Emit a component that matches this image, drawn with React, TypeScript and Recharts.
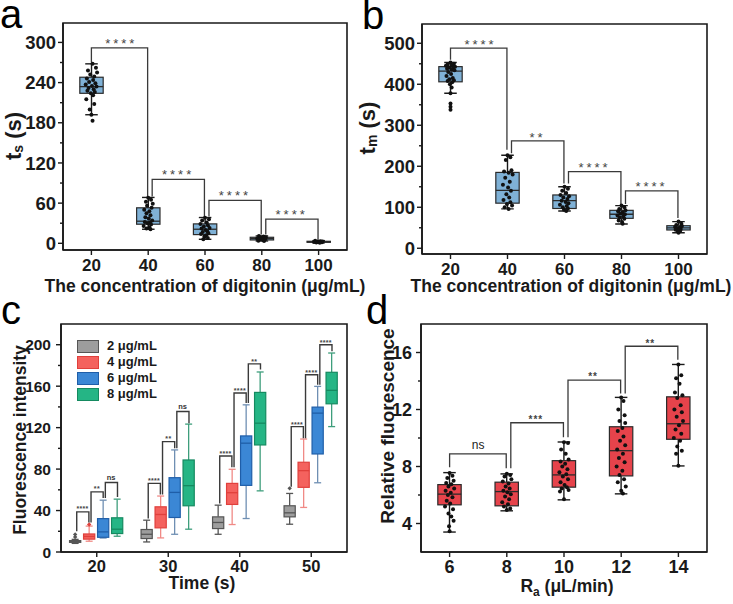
import React from 'react';
import { ComposedChart, Bar, XAxis, YAxis, Scatter, Line, ReferenceArea, Legend } from 'recharts';

const FONT = '"Liberation Sans", Arial, Helvetica, sans-serif';
const INK = '#1a1a1a';

// ---------------- Panel a : t_s ----------------
const aCategories = ['20', '40', '60', '80', '100'];
const aMin = [192, 21, 6, 3.5, 0.8];
const aQ1 = [224, 28.5, 13, 5, 1.5];
const aMedian = [234, 33, 21, 7, 2.2];
const aQ3 = [248, 53, 29, 9, 3];
const aMax = [268, 68.5, 38.5, 11, 4];
const aPoints: number[][][] = [
  [[0.02, 268], [0.08, 262], [-0.06, 258], [0.1, 255], [-0.02, 252], [0.05, 249], [-0.08, 246], [0.03, 244], [-0.04, 241], [0.07, 239], [-0.1, 237], [0.01, 235], [0.09, 234], [-0.05, 232], [0.04, 230], [-0.07, 228], [0.06, 226], [-0.01, 224], [0.03, 221], [-0.09, 215], [0.05, 208], [-0.03, 200], [0.0, 192], [0.02, 183]],
  [[0.0, 68], [0.05, 65], [-0.04, 62], [0.08, 59], [-0.02, 56], [0.06, 53], [-0.07, 50], [0.02, 48], [-0.03, 45], [0.04, 42], [-0.05, 39], [0.01, 37], [0.07, 34], [-0.06, 32], [0.03, 31], [-0.01, 30], [0.05, 28], [-0.08, 26], [0.02, 24], [-0.03, 22], [0.04, 21]],
  [[0.0, 38], [0.07, 36], [-0.05, 34], [0.03, 31], [-0.08, 29], [0.05, 27], [-0.02, 25], [0.08, 23], [-0.06, 22], [0.01, 20], [0.04, 18], [-0.04, 17], [0.06, 15], [-0.07, 14], [0.02, 12], [-0.01, 10], [0.05, 8], [-0.03, 6]],
  [[-0.05, 11], [0.03, 10], [0.07, 9], [-0.02, 8.5], [0.05, 8], [-0.08, 7], [0.01, 6.5], [0.06, 6], [-0.04, 5.5], [0.02, 5], [-0.06, 4], [0.04, 3.5]],
  [[-0.06, 3.8], [0.03, 3.2], [0.07, 2.8], [-0.02, 2.5], [0.05, 2.2], [-0.08, 2], [0.01, 1.8], [0.06, 1.5], [-0.04, 1.2], [0.02, 1]],
];
const aBrackets = [
  { from: 0, to: 1, top: 292, leftEnd: 270, rightEnd: 70, txt: '****', labelY: 303 },
  { from: 1, to: 2, top: 95.5, leftEnd: 70, rightEnd: 40, txt: '****', labelY: 107 },
  { from: 2, to: 3, top: 64, leftEnd: 40, rightEnd: 13, txt: '****', labelY: 75.5 },
  { from: 3, to: 4, top: 36, leftEnd: 13, rightEnd: 5, txt: '****', labelY: 48 },
];
const aTicks = [0, 30, 60, 90, 120, 150, 180, 210, 240, 270, 300];
const aMajor = [0, 60, 120, 180, 240, 300];

// ---------------- Panel b : t_m ----------------
const bCategories = ['20', '40', '60', '80', '100'];
const bMin = [378, 96, 91, 59, 38];
const bQ1 = [406, 110, 97, 73, 44.6];
const bMedian = [432, 141, 116, 83, 49.5];
const bQ3 = [443, 185, 130, 92.5, 55];
const bMax = [453, 227, 150, 104, 65];
const bPoints: number[][][] = [
  [[0.0, 453], [0.06, 450], [-0.05, 448], [0.03, 446], [-0.08, 445], [0.08, 443], [-0.02, 441], [0.05, 440], [-0.06, 438], [0.02, 436], [0.07, 434], [-0.04, 430], [0.01, 425], [-0.07, 420], [0.04, 415], [-0.02, 412], [0.06, 410], [-0.05, 408], [0.03, 405], [-0.01, 400], [0.02, 392], [0.0, 378], [0.0, 353], [0.0, 345], [0.0, 338]],
  [[0.0, 227], [0.05, 222], [-0.03, 215], [0.07, 190], [-0.06, 187], [0.02, 184], [0.09, 180], [-0.04, 172], [0.04, 162], [-0.08, 155], [0.01, 148], [0.06, 140], [-0.02, 132], [0.03, 124], [-0.07, 118], [0.05, 112], [-0.01, 108], [0.08, 104], [-0.05, 100], [0.02, 96]],
  [[0.0, 150], [0.06, 145], [-0.04, 140], [0.03, 135], [-0.07, 130], [0.08, 127], [-0.02, 124], [0.05, 120], [-0.05, 116], [0.02, 113], [0.07, 110], [-0.08, 106], [0.04, 103], [-0.03, 100], [0.06, 97], [-0.01, 94], [0.03, 91]],
  [[0.0, 104], [0.05, 100], [-0.04, 96], [0.07, 93], [-0.06, 90], [0.02, 88], [-0.02, 85], [0.06, 83], [-0.07, 80], [0.03, 78], [-0.03, 75], [0.05, 72], [-0.05, 68], [0.01, 64], [0.02, 60]],
  [[0.0, 65], [0.05, 60], [-0.04, 57], [0.06, 54], [-0.06, 52], [0.02, 50], [-0.02, 49], [0.04, 47], [-0.05, 45], [0.03, 43], [-0.01, 41], [0.0, 38]],
];
const bBrackets = [
  { from: 0, to: 1, top: 488, leftEnd: 460, rightEnd: 240, txt: '****', labelY: 504 },
  { from: 1, to: 2, top: 261.7, leftEnd: 232, rightEnd: 158, txt: '**', labelY: 277 },
  { from: 2, to: 3, top: 187, leftEnd: 158, rightEnd: 108, txt: '****', labelY: 205 },
  { from: 3, to: 4, top: 140, leftEnd: 108, rightEnd: 74, txt: '****', labelY: 158 },
];
const bTicks = [0, 50, 100, 150, 200, 250, 300, 350, 400, 450, 500];
const bMajor = [0, 100, 200, 300, 400, 500];

// ---------------- Panel c : fluorescence vs time ----------------
const cCategories = ['20', '30', '40', '50'];
const cSeries = ['2 μg/mL', '4 μg/mL', '6 μg/mL', '8 μg/mL'];
// each entry: [min, q1, median, q3, max] per time point
const cGray = [[8.3, 9.3, 10, 11, 12.2], [9.7, 13, 17.1, 21.7, 30.7], [17.1, 22.6, 28.5, 33.9, 45.2], [26.8, 33.9, 37.8, 44.6, 56.5]];
const cRed = [[10.4, 12.4, 15, 17.4, 25], [13.6, 23.3, 36.2, 43.6, 54], [26.5, 45.9, 57.2, 66.2, 79.8], [43, 62.4, 78.5, 86.6, 109]];
const cBlue = [[13.5, 14.2, 19.4, 32.2, 50], [17.1, 33.3, 57.5, 71.7, 98.5], [32.3, 64.3, 105, 112, 142], [66.8, 94.6, 134, 139.8, 159.8]];
const cGreen = [[15.2, 17.8, 22, 33, 51], [22, 44.6, 64, 88.8, 123.4], [59, 103.3, 124.3, 154, 173.7], [121, 143, 156, 173.4, 192]];
const cOutGray = [[14.5, 17], [], [], [61.4]];
const cOutRed = [[26.5], [], [], []];
const cOutBlue: number[][] = [[], [], [], []];
const cOutGreen: number[][] = [[], [], [], []];
const cBrackets = [
  { cat: 0, from: 0, to: 1, top: 38.7, leftEnd: 20, rightEnd: 28.5, txt: '****', labelY: 43 },
  { cat: 0, from: 1, to: 2, top: 58, leftEnd: 28.5, rightEnd: 52, txt: '**', labelY: 62.4 },
  { cat: 0, from: 2, to: 3, top: 67, leftEnd: 52, rightEnd: 53, txt: 'ns', labelY: 71.5 },
  { cat: 1, from: 0, to: 1, top: 66.2, leftEnd: 32.3, rightEnd: 55.6, txt: '****', labelY: 70 },
  { cat: 1, from: 1, to: 2, top: 106.5, leftEnd: 55.6, rightEnd: 100, txt: '**', labelY: 110.8 },
  { cat: 1, from: 2, to: 3, top: 135.6, leftEnd: 100, rightEnd: 124.3, txt: 'ns', labelY: 140 },
  { cat: 2, from: 0, to: 1, top: 92.7, leftEnd: 46.9, rightEnd: 81.7, txt: '****', labelY: 96.5 },
  { cat: 2, from: 1, to: 2, top: 153.4, leftEnd: 81.7, rightEnd: 143.7, txt: '****', labelY: 157 },
  { cat: 2, from: 2, to: 3, top: 181.5, leftEnd: 143.7, rightEnd: 176, txt: '**', labelY: 185 },
  { cat: 3, from: 0, to: 1, top: 121, leftEnd: 63, rightEnd: 109.8, txt: '****', labelY: 124.6 },
  { cat: 3, from: 1, to: 2, top: 171, leftEnd: 109.8, rightEnd: 161.4, txt: '****', labelY: 174.6 },
  { cat: 3, from: 2, to: 3, top: 200, leftEnd: 161.4, rightEnd: 193.7, txt: '****', labelY: 203.5 },
];
const cTicks = [0, 20, 40, 60, 80, 100, 120, 140, 160, 180, 200];
const cMajor = [0, 40, 80, 120, 160, 200];

// ---------------- Panel d : relative fluorescence ----------------
const dCategories = ['6', '8', '10', '12', '14'];
const dMin = [3.4, 4.89, 5.66, 6.08, 8.04];
const dQ1 = [5.31, 5.24, 6.55, 7.34, 9.91];
const dMedian = [6.06, 6.24, 7.41, 9.11, 11.0];
const dQ3 = [6.73, 6.9, 8.41, 10.79, 12.89];
const dMax = [7.57, 7.48, 9.72, 12.85, 15.16];
const dPoints: number[][][] = [
  [[0.0, 7.55], [0.05, 7.35], [-0.04, 7.2], [0.07, 7.0], [-0.06, 6.85], [0.03, 6.75], [-0.02, 6.6], [0.08, 6.45], [-0.07, 6.3], [0.02, 6.15], [-0.03, 6.0], [0.05, 5.85], [-0.05, 5.6], [0.01, 5.4], [-0.08, 5.2], [0.06, 5.0], [-0.02, 4.7], [0.03, 4.5], [0.07, 4.2], [-0.01, 3.8], [0.0, 3.45]],
  [[0.0, 7.5], [0.06, 7.4], [-0.04, 7.3], [0.08, 7.1], [-0.07, 6.95], [0.03, 6.8], [-0.02, 6.6], [0.05, 6.45], [-0.06, 6.3], [0.01, 6.2], [0.07, 6.05], [-0.03, 5.9], [0.04, 5.7], [-0.08, 5.5], [0.02, 5.35], [-0.05, 5.2], [0.06, 5.05], [0.0, 4.95]],
  [[0.0, 9.7], [0.07, 9.65], [-0.05, 9.2], [0.03, 8.9], [0.08, 8.5], [-0.06, 8.35], [0.02, 8.2], [-0.03, 8.0], [0.06, 7.8], [-0.08, 7.6], [0.04, 7.45], [-0.02, 7.3], [0.07, 7.1], [-0.06, 6.9], [0.01, 6.7], [0.05, 6.55], [-0.04, 6.45], [0.08, 6.35], [-0.07, 6.25], [0.0, 5.7]],
  [[0.0, 12.85], [0.04, 12.6], [-0.05, 12.0], [0.06, 11.6], [-0.03, 11.2], [0.07, 11.05], [0.02, 10.7], [-0.06, 10.5], [0.04, 10.1], [-0.02, 9.8], [0.07, 9.5], [-0.07, 9.2], [0.03, 8.9], [-0.04, 8.6], [0.06, 8.3], [-0.08, 8.0], [0.02, 7.7], [-0.03, 7.4], [0.05, 7.1], [-0.06, 6.9], [0.08, 6.6], [0.0, 6.3], [0.03, 6.1]],
  [[0.0, 15.15], [0.05, 14.4], [-0.04, 14.2], [0.02, 13.8], [-0.06, 13.2], [0.07, 13.0], [-0.02, 12.8], [0.04, 12.3], [-0.07, 12.0], [0.06, 11.8], [-0.03, 11.5], [0.08, 11.2], [0.01, 10.9], [-0.05, 10.6], [0.05, 10.3], [-0.08, 10.0], [0.03, 9.8], [-0.02, 9.4], [0.06, 9.1], [-0.04, 8.9], [0.0, 8.05]],
];
const dBrackets = [
  { from: 0, to: 1, top: 8.88, leftEnd: 7.95, rightEnd: 7.88, txt: 'ns', labelY: 9.45 },
  { from: 1, to: 2, top: 11.07, leftEnd: 7.88, rightEnd: 10.05, txt: '***', labelY: 11.45 },
  { from: 2, to: 3, top: 14.06, leftEnd: 10.05, rightEnd: 13.13, txt: '**', labelY: 14.45 },
  { from: 3, to: 4, top: 16.44, leftEnd: 13.13, rightEnd: 15.5, txt: '**', labelY: 16.8 },
];
const dTicks = [4, 6, 8, 10, 12, 14, 16];
const dMajor = [4, 8, 12, 16];

// ---------------- styling constants ----------------
const C_STYLE = [
  { fill: '#9d9d9d', stroke: '#555555', whisker: '#555555' },
  { fill: '#f4625e', stroke: '#e0403c', whisker: '#f08a86' },
  { fill: '#3b87d5', stroke: '#1f5ea8', whisker: '#6f8fb3' },
  { fill: '#25b585', stroke: '#158a60', whisker: '#3e9e7c' },
];
const C_OFFSETS = [-0.3, -0.1, 0.1, 0.3];
const C_KEYS = ['r0', 'r1', 'r2', 'r3'];

function YTick(props: any) {
  const { x, y, payload, major, fontSize, gap } = props;
  const v = payload ? payload.value : undefined;
  const isMajor = major.indexOf(v) >= 0;
  return (
    <g>
      <line x1={x} x2={x - (isMajor ? 5 : 3)} y1={y} y2={y} stroke={INK} strokeWidth={1.4} />
      {isMajor && (
        <text x={x - gap} y={y} dy="0.36em" textAnchor="end" fontSize={fontSize} fontWeight={700} fill={INK} fontFamily={FONT}>
          {v}
        </text>
      )}
    </g>
  );
}

function makeLabelShape(fs: number, spacing: number, color: string, weight: number) {
  return (p: any) => {
    const d = (p && p.payload) || p || {};
    const t: string = String(d.txt ?? p.txt ?? '');
    if (!t || p.cx == null || p.cy == null) return <g />;
    const star = t.indexOf('*') >= 0;
    return (
      <text x={p.cx + spacing / 2} y={p.cy + (star ? 0.57 : 0.27) * fs} textAnchor="middle" fontSize={fs}
        letterSpacing={spacing} fill={color} stroke="none" style={{ fill: color, stroke: 'none' }} fontWeight={weight} fontFamily={FONT}>
        {t}
      </text>
    );
  };
}

function MonoBox(props: any) {
  const { x, y, width, height, payload, boxFill, rows, index } = props;
  const row = (payload && payload.st) ? payload : rows[index];
  if (!row || !row.st || x == null || y == null) return <g />;
  const [mn, q1, md, q3, mx] = row.st;
  const top = Math.min(y, y + height);
  const bot = Math.max(y, y + height);
  const k = (bot - top) / (mx - mn);
  const py = (v: number) => bot - (v - mn) * k;
  const cx = x + width / 2;
  const bw = width * 0.41;
  const cw = width * 0.22;
  const sw = 1.4;
  return (
    <g>
      <line x1={cx} x2={cx} y1={py(mx)} y2={py(q3)} stroke={INK} strokeWidth={sw} />
      <line x1={cx} x2={cx} y1={py(q1)} y2={py(mn)} stroke={INK} strokeWidth={sw} />
      <line x1={cx - cw / 2} x2={cx + cw / 2} y1={py(mx)} y2={py(mx)} stroke={INK} strokeWidth={sw} />
      <line x1={cx - cw / 2} x2={cx + cw / 2} y1={py(mn)} y2={py(mn)} stroke={INK} strokeWidth={sw} />
      <rect x={cx - bw / 2} y={py(q3)} width={bw} height={py(q1) - py(q3)} fill={boxFill} stroke="#2b2b2b" strokeWidth={1.2} />
      <line x1={cx - bw / 2} x2={cx + bw / 2} y1={py(md)} y2={py(md)} stroke="#2b2b2b" strokeWidth={1.3} />
    </g>
  );
}

function BoxPanel(props: any) {
  const { width, height, margin, yWidth, categories, mins, q1s, meds, q3s, maxs, points, brackets, domain, ticks, major,
    boxFill, tickFont, yTickFont, xTickMargin, yGap, labelFont, labelSpacing, labelWeight, nsFont } = props;
  const rows = categories.map((name: string, i: number) => ({ name, range: [mins[i], maxs[i]], st: [mins[i], q1s[i], meds[i], q3s[i], maxs[i]] }));
  const dots = points.flatMap((arr: number[][], i: number) => arr.map(([dx, y]) => ({ x: i + 1 + dx, y })));
  const n = categories.length;
  const labels = brackets.map((b: any) => ({ x: (b.from + b.to) / 2 + 1, y: b.labelY, txt: b.txt }));
  const starLabels = labels.filter((l: any) => l.txt.indexOf('*') >= 0);
  const nsLabels = labels.filter((l: any) => l.txt.indexOf('*') < 0);
  return (
    <ComposedChart width={width} height={height} data={rows} margin={margin} barCategoryGap={0} barGap={0}>
      <XAxis xAxisId="cat" dataKey="name" type="category" interval={0} height={30} tickSize={5} tickMargin={xTickMargin}
        axisLine={{ stroke: INK, strokeWidth: 1.6 }} tickLine={{ stroke: INK, strokeWidth: 1.4 }}
        tick={{ fontSize: tickFont, fontWeight: 700, fill: INK, fontFamily: FONT }} />
      <XAxis xAxisId="num" type="number" dataKey="x" domain={[0.5, n + 0.5]} hide allowDataOverflow />
      <YAxis type="number" domain={domain} ticks={ticks} interval={0} allowDataOverflow width={yWidth} tickSize={0} tickMargin={0}
        axisLine={{ stroke: INK, strokeWidth: 1.6 }} tickLine={false}
        tick={(p: any) => <YTick {...p} major={major} fontSize={yTickFont} gap={yGap} />} />
      <ReferenceArea xAxisId="num" x1={0.5} x2={n + 0.5} y1={domain[0]} y2={domain[1]} fill="none" stroke={INK} strokeWidth={1.6} fillOpacity={0} />
      <Bar xAxisId="cat" dataKey="range" fill={boxFill} isAnimationActive={false}
        shape={(p: any) => <MonoBox {...p} boxFill={boxFill} rows={rows} />} />
      {brackets.map((b: any, k: number) => {
        const lx = b.from + 1 + (k > 0 ? 0.07 : 0);
        const rx = b.to + 1 - 0.01;
        const pts = [{ x: lx, y: b.leftEnd }, { x: lx, y: b.top }, { x: rx, y: b.top }, { x: rx, y: b.rightEnd }];
        return <Line key={'br' + k} xAxisId="num" data={pts} dataKey="y" type="linear" stroke="#3a3a3a" strokeWidth={1.3}
          dot={false} activeDot={false} isAnimationActive={false} legendType="none" />;
      })}
      <Scatter xAxisId="num" data={dots} dataKey="y" isAnimationActive={false} legendType="none"
        shape={(p: any) => <circle cx={p.cx} cy={p.cy} r={2} fill="#111" />} />
      <Scatter xAxisId="num" data={starLabels} dataKey="y" isAnimationActive={false} legendType="none"
        shape={makeLabelShape(labelFont, labelSpacing, '#444', labelWeight)} />
      <Scatter xAxisId="num" data={nsLabels} dataKey="y" isAnimationActive={false} legendType="none"
        shape={makeLabelShape(nsFont, 0, '#222', 400)} />
    </ComposedChart>
  );
}

function CBox(props: any) {
  const { x, y, width, height, payload, si, rows, index } = props;
  const row = (payload && payload.s) ? payload : rows[index];
  if (!row || !row.s || x == null || y == null) return <g />;
  const [mn, q1, md, q3, mx] = row.s[si];
  const outs: number[] = row.o[si];
  const st = C_STYLE[si];
  const top = Math.min(y, y + height);
  const bot = Math.max(y, y + height);
  const k = (bot - top) / (mx - mn);
  const py = (v: number) => bot - (v - mn) * k;
  const cx = x + width / 2;
  const bw = width * 0.8;
  const cw = width * 0.5;
  return (
    <g>
      <line x1={cx} x2={cx} y1={py(mx)} y2={py(q3)} stroke={st.whisker} strokeWidth={1.3} />
      <line x1={cx} x2={cx} y1={py(q1)} y2={py(mn)} stroke={st.whisker} strokeWidth={1.3} />
      <line x1={cx - cw / 2} x2={cx + cw / 2} y1={py(mx)} y2={py(mx)} stroke={st.whisker} strokeWidth={1.3} />
      <line x1={cx - cw / 2} x2={cx + cw / 2} y1={py(mn)} y2={py(mn)} stroke={st.whisker} strokeWidth={1.3} />
      <rect x={cx - bw / 2} y={py(q3)} width={bw} height={py(q1) - py(q3)} fill={st.fill} stroke={st.stroke} strokeWidth={1.2} />
      <line x1={cx - bw / 2} x2={cx + bw / 2} y1={py(md)} y2={py(md)} stroke={st.stroke} strokeWidth={1.3} />
      {outs.map((v, i) => {
        const oy = py(v);
        return <path key={i} d={`M${cx},${oy - 2.2} L${cx + 2.2},${oy} L${cx},${oy + 2.2} L${cx - 2.2},${oy} Z`} fill={st.stroke} />;
      })}
    </g>
  );
}

function CLegend() {
  return (
    <div style={{ fontFamily: FONT, fontWeight: 700, fontSize: 13, color: INK, lineHeight: '16px' }}>
      {cSeries.map((name, i) => (
        <div key={name} style={{ display: 'flex', alignItems: 'center', height: 16 }}>
          <div style={{ width: 20, height: 11, background: C_STYLE[i].fill, border: `1px solid ${C_STYLE[i].stroke}`, marginRight: 8 }} />
          <span>{name}</span>
        </div>
      ))}
    </div>
  );
}

function PanelC() {
  const rows = cCategories.map((name, i) => ({
    name,
    s: [cGray[i], cRed[i], cBlue[i], cGreen[i]],
    o: [cOutGray[i], cOutRed[i], cOutBlue[i], cOutGreen[i]],
    r0: [cGray[i][0], cGray[i][4]],
    r1: [cRed[i][0], cRed[i][4]],
    r2: [cBlue[i][0], cBlue[i][4]],
    r3: [cGreen[i][0], cGreen[i][4]],
  }));
  const domain = [0, 220];
  const labels = cBrackets.map((b) => ({ x: b.cat + 1 + (C_OFFSETS[b.from] + C_OFFSETS[b.to]) / 2, y: b.labelY, txt: b.txt }));
  const starLabels = labels.filter((l) => l.txt.indexOf('*') >= 0);
  const nsLabels = labels.filter((l) => l.txt.indexOf('*') < 0);
  return (
    <ComposedChart width={366} height={304} data={rows} margin={{ top: 24, right: 19, bottom: 22, left: 13 }} barCategoryGap="10%" barGap={0}>
      <XAxis xAxisId="cat" dataKey="name" type="category" interval={0} height={30} tickSize={5} tickMargin={3}
        axisLine={{ stroke: INK, strokeWidth: 1.6 }} tickLine={{ stroke: INK, strokeWidth: 1.4 }}
        tick={{ fontSize: 16.5, fontWeight: 700, fill: INK, fontFamily: FONT }} />
      <XAxis xAxisId="num" type="number" dataKey="x" domain={[0.5, 4.5]} hide allowDataOverflow />
      <YAxis type="number" domain={domain} ticks={cTicks} interval={0} allowDataOverflow width={48} tickSize={0} tickMargin={0}
        axisLine={{ stroke: INK, strokeWidth: 1.6 }} tickLine={false}
        tick={(p: any) => <YTick {...p} major={cMajor} fontSize={15.5} gap={10} />} />
      <ReferenceArea xAxisId="num" x1={0.5} x2={4.5} y1={0} y2={220} fill="none" fillOpacity={0} stroke={INK} strokeWidth={1.6} />
      {cSeries.map((name, si) => (
        <Bar key={name} xAxisId="cat" name={name} dataKey={C_KEYS[si]} fill={C_STYLE[si].fill}
          isAnimationActive={false} shape={(p: any) => <CBox {...p} si={si} rows={rows} />} />
      ))}
      {cBrackets.map((b, k) => {
        const lx = b.cat + 1 + C_OFFSETS[b.from] + 0.02;
        const rx = b.cat + 1 + C_OFFSETS[b.to] - 0.01;
        const pts = [{ x: lx, y: b.leftEnd }, { x: lx, y: b.top }, { x: rx, y: b.top }, { x: rx, y: b.rightEnd }];
        return <Line key={'cb' + k} xAxisId="num" data={pts} dataKey="y" type="linear" stroke="#3a3a3a" strokeWidth={1.4}
          dot={false} activeDot={false} isAnimationActive={false} legendType="none" />;
      })}
      <Scatter xAxisId="num" data={starLabels} dataKey="y" isAnimationActive={false} legendType="none"
        shape={makeLabelShape(7, 0.3, '#444', 700)} />
      <Scatter xAxisId="num" data={nsLabels} dataKey="y" isAnimationActive={false} legendType="none"
        shape={makeLabelShape(7.5, 0, '#333', 700)} />
      <Legend layout="vertical" align="center" verticalAlign="middle" content={() => <CLegend />}
        wrapperStyle={{ left: 77, top: 38, width: 120, height: 64 }} />
    </ComposedChart>
  );
}

export default function App() {
  const abs = (left: number, top: number): React.CSSProperties => ({ position: 'absolute', left, top });
  return (
    <div style={{ position: 'absolute', left: 0, top: 0, width: 733, height: 604, background: '#fff', fontFamily: FONT, overflow: 'hidden' }}>
      <div style={abs(0, 0)}>
        <BoxPanel width={366} height={300} margin={{ top: 23, right: 19, bottom: 20, left: 15 }} yWidth={48}
          categories={aCategories} mins={aMin} q1s={aQ1} meds={aMedian} q3s={aQ3} maxs={aMax} points={aPoints}
          brackets={aBrackets} domain={[-10, 329]} ticks={aTicks} major={aMajor} boxFill="#7fb1d6"
          tickFont={17} yTickFont={18.5} xTickMargin={4} yGap={7} labelFont={13} labelSpacing={3} labelWeight={400} nsFont={13} />
      </div>
      <div style={abs(366, 0)}>
        <BoxPanel width={367} height={300} margin={{ top: 24, right: 26, bottom: 16, left: 8 }} yWidth={48}
          categories={bCategories} mins={bMin} q1s={bQ1} meds={bMedian} q3s={bQ3} maxs={bMax} points={bPoints}
          brackets={bBrackets} domain={[-14, 547]} ticks={bTicks} major={bMajor} boxFill="#7fb1d6"
          tickFont={17} yTickFont={18.5} xTickMargin={3.5} yGap={7} labelFont={13} labelSpacing={3} labelWeight={400} nsFont={13} />
      </div>
      <div style={abs(0, 300)}>
        <PanelC />
      </div>
      <div style={abs(366, 300)}>
        <BoxPanel width={367} height={304} margin={{ top: 24, right: 26, bottom: 22, left: 7 }} yWidth={48}
          categories={dCategories} mins={dMin} q1s={dQ1} meds={dMedian} q3s={dQ3} maxs={dMax} points={dPoints}
          brackets={dBrackets} domain={[2, 18]} ticks={dTicks} major={dMajor} boxFill="#e6434b"
          tickFont={18} yTickFont={18} xTickMargin={3.5} yGap={9} labelFont={10} labelSpacing={1} labelWeight={700} nsFont={12} />
      </div>
      <svg width={733} height={604} style={{ position: 'absolute', left: 0, top: 0, pointerEvents: 'none' }}>
        <g fontFamily={FONT} fill="#000">
          <text x={0} y={28} fontSize={40}>a</text>
          <text x={362} y={29} fontSize={40}>b</text>
          <text x={1} y={324} fontSize={40}>c</text>
          <text x={366} y={324} fontSize={40}>d</text>
        </g>
        <g fontFamily={FONT} fontWeight={700} fill={INK}>
          <text transform="translate(13,136) rotate(-90)" textAnchor="middle" dominantBaseline="central" fontSize={22}>
            <tspan>t</tspan><tspan fontSize={14} dy={5}>s</tspan><tspan dy={-5}> (s)</tspan>
          </text>
          <text transform="translate(367,128) rotate(-90)" textAnchor="middle" dominantBaseline="central" fontSize={22}>
            <tspan>t</tspan><tspan fontSize={14} dy={5}>m</tspan><tspan dy={-5}> (s)</tspan>
          </text>
          <text transform="translate(20,440) rotate(-90)" textAnchor="middle" dominantBaseline="central" fontSize={17.5}>
            Fluorescence intensity
          </text>
          <text transform="translate(387,426) rotate(-90)" textAnchor="middle" dominantBaseline="central" fontSize={19}>
            Relative fluorescence
          </text>
          <text x={205} y={292} textAnchor="middle" fontSize={17.5}>The concentration of digitonin (μg/mL)</text>
          <text x={571} y={292} textAnchor="middle" fontSize={17.5}>The concentration of digitonin (μg/mL)</text>
          <text x={202} y={589} textAnchor="middle" fontSize={17.5}>Time (s)</text>
          <text x={567} y={592} textAnchor="middle" fontSize={17.5}>
            <tspan>R</tspan><tspan fontSize={12} dy={4}>a</tspan><tspan dy={-4}> (μL/min)</tspan>
          </text>
        </g>
      </svg>
    </div>
  );
}
